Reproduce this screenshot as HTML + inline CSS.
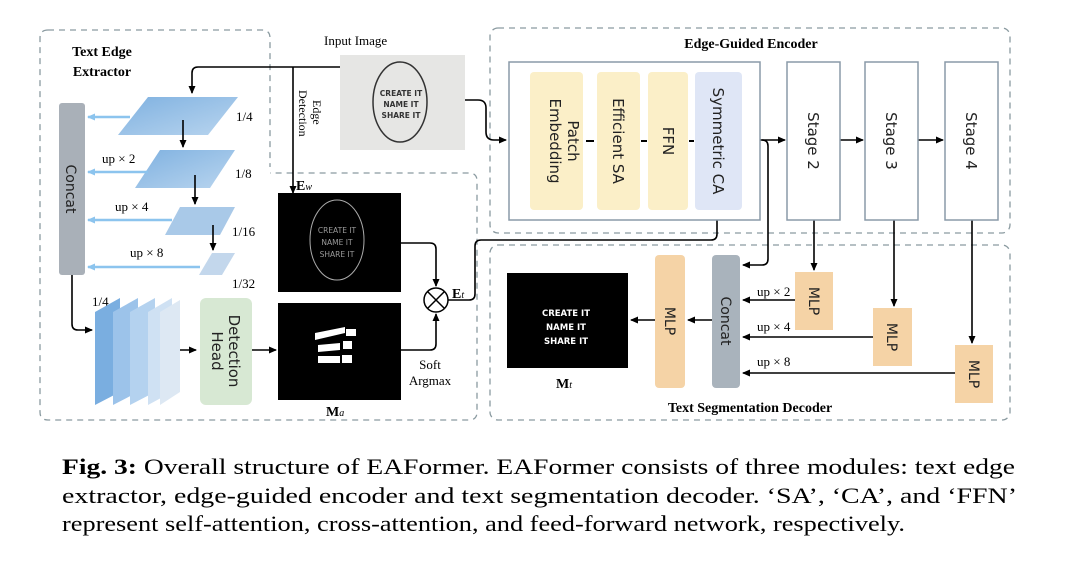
<!DOCTYPE html>
<html><head><meta charset="utf-8"><style>
html,body{margin:0;padding:0;background:#fff;width:1080px;height:561px;overflow:hidden}
svg{display:block}
.s{font-family:"Liberation Serif",serif}
.a{font-family:"DejaVu Sans","Liberation Sans",sans-serif}
</style></head><body>
<svg width="1080" height="561" viewBox="0 0 1080 561" xmlns="http://www.w3.org/2000/svg">
<defs>
<marker id="ah" markerWidth="8" markerHeight="8" refX="7" refY="4" orient="auto" markerUnits="userSpaceOnUse"><path d="M0,0.5 L8,4 L0,7.5 Z" fill="#000"/></marker>
<marker id="bh" markerWidth="8" markerHeight="8" refX="7" refY="4" orient="auto" markerUnits="userSpaceOnUse"><path d="M0,0.5 L8,4 L0,7.5 Z" fill="#8cc4ee"/></marker>
<linearGradient id="bl" x1="0" y1="0" x2="1" y2="1"><stop offset="0" stop-color="#7fb1e0"/><stop offset="1" stop-color="#b9d5ef"/></linearGradient>
</defs>
<g fill="none" stroke="#8a9aa0" stroke-width="1.3" stroke-dasharray="6,5">
<path d="M48,30 H262 Q270,30 270,38 V167"/>
<path d="M48,30 Q40,30 40,38 V412 Q40,420 48,420 H469 Q477,420 477,412 V181 Q477,173 469,173 H270"/>
<rect x="490" y="28" width="520" height="205" rx="8"/>
<rect x="490" y="245" width="520" height="175" rx="8"/>
</g>
<text x="102" y="56" class="s" font-weight="bold" font-size="14" text-anchor="middle">Text Edge</text>
<text x="102" y="76" class="s" font-weight="bold" font-size="14" text-anchor="middle">Extractor</text>
<rect x="59" y="103" width="26" height="172" rx="3" fill="#a9b0b8"/>
<text transform="translate(66,189) rotate(90)" class="a" font-size="14" text-anchor="middle" fill="#222">Concat</text>
<polygon points="148,97 238,97 208,135 118,135" fill="url(#bl)"/>
<polygon points="160,150 235,150 210,188 135,188" fill="url(#bl)"/>
<polygon points="180,207 235,207 220,235 165,235" fill="#a9c9e8"/>
<polygon points="212,253 235,253 222,275 199,275" fill="#c3d7ec"/>
<g class="s" font-size="13"><text x="236" y="121">1/4</text><text x="235" y="178">1/8</text><text x="232" y="236">1/16</text><text x="232" y="288">1/32</text><text x="92" y="306">1/4</text></g>
<g stroke="#8cc4ee" stroke-width="2.5" marker-end="url(#bh)"><line x1="130" y1="117" x2="88" y2="117"/><line x1="148" y1="172" x2="88" y2="172"/><line x1="172" y1="220" x2="88" y2="220"/><line x1="200" y1="267" x2="88" y2="267"/></g>
<g class="s" font-size="13"><text x="102" y="163">up × 2</text><text x="115" y="211">up × 4</text><text x="130" y="257">up × 8</text></g>
<g stroke="#000" stroke-width="1.6" fill="none" marker-end="url(#ah)">
<line x1="183" y1="120" x2="183" y2="147"/><line x1="195" y1="175" x2="195" y2="204"/><line x1="213" y1="225" x2="213" y2="250"/>
<path d="M340,67 H198 Q192,67 192,73 V93"/>
<path d="M293,67 V193"/>
<path d="M72,275 V324 Q72,330 78,330 H92"/>
<line x1="170" y1="350" x2="196" y2="350"/><line x1="252" y1="350" x2="276" y2="350"/>
<path d="M401,243 H430 Q436,243 436,249 V286"/>
<path d="M401,350 H430 Q436,350 436,344 V314"/>
<path d="M448,300 H469 Q475,300 475,294 V246 Q475,240 481,240 H711 Q717,240 717,234 V208"/>
<path d="M465,100 H478 Q486,100 486,108 V132 Q486,140 494,140 H506"/>
<path d="M760,140 H785"/><path d="M840,140 H863"/><path d="M918,140 H943"/>
<path d="M762,140 Q768,140 768,146 V259 Q768,265 762,265 H743"/>
<path d="M814,220 V270"/><path d="M894,220 V306"/><path d="M972,220 V343"/>
<path d="M795,300 H743"/><path d="M873,337 H743"/><path d="M955,373 H743"/>
<path d="M712,320 H688"/><path d="M655,320 H631"/>
</g>
<polygon points="95,312 120,298 120,392 95,405" fill="#7aaee0"/>
<polygon points="113,312 138,298 138,392 113,405" fill="#9cc3ea"/>
<polygon points="130,312 155,298 155,392 130,405" fill="#b4d2ef"/>
<polygon points="148,312 172,298 172,392 148,405" fill="#cfe1f3"/>
<polygon points="160,312 180,300 180,392 160,405" fill="#dde8f3"/>
<rect x="200" y="298" width="52" height="107" rx="6" fill="#d7e8d3"/>
<text transform="translate(229,351) rotate(90)" class="a" font-size="15" text-anchor="middle" fill="#222">Detection</text>
<text transform="translate(212,351) rotate(90)" class="a" font-size="15" text-anchor="middle" fill="#222">Head</text>
<text x="324" y="45" class="s" font-size="13">Input Image</text>
<rect x="340" y="55" width="125" height="95" fill="#e6e6e4"/>
<ellipse cx="400" cy="102" rx="27" ry="40" fill="none" stroke="#333" stroke-width="1.5"/>
<g class="a" font-size="7.5" font-weight="bold" fill="#333" text-anchor="middle"><text x="401" y="96">CREATE IT</text><text x="401" y="107">NAME IT</text><text x="401" y="118">SHARE IT</text></g>
<text transform="translate(299,90) rotate(90)" class="s" font-size="12">Detection</text>
<text transform="translate(313,100) rotate(90)" class="s" font-size="12">Edge</text>
<rect x="278" y="193" width="123" height="99" fill="#000"/>
<ellipse cx="337" cy="240" rx="27" ry="40" fill="none" stroke="#aaa" stroke-width="1"/>
<g class="a" font-size="7.5" fill="#999" text-anchor="middle"><text x="337" y="233">CREATE IT</text><text x="337" y="245">NAME IT</text><text x="337" y="257">SHARE IT</text></g>
<rect x="278" y="303" width="123" height="97" fill="#000"/>
<g fill="#fff"><polygon points="315,333 345,327 345,333 315,340"/><polygon points="318,345 340,343 340,350 318,352"/><rect x="343" y="341" width="9" height="8"/><rect x="346" y="329" width="10" height="7"/><rect x="318" y="356" width="22" height="7"/><rect x="342" y="355" width="10" height="8"/></g>
<text x="296" y="190" class="s" font-size="14" font-weight="bold">E<tspan font-style="italic" font-size="10" font-weight="normal">w</tspan></text>
<text x="326" y="416" class="s" font-size="14" font-weight="bold">M<tspan font-style="italic" font-size="10" font-weight="normal">a</tspan></text>
<circle cx="436" cy="300" r="12" fill="#fff" stroke="#000" stroke-width="1.5"/>
<path d="M427.5,291.5 L444.5,308.5 M444.5,291.5 L427.5,308.5" stroke="#000" stroke-width="1.5"/>
<text x="452" y="298" class="s" font-size="14" font-weight="bold">E<tspan font-style="italic" font-size="10" font-weight="normal">t</tspan></text>
<text x="430" y="369" class="s" font-size="13" text-anchor="middle">Soft</text>
<text x="430" y="385" class="s" font-size="13" text-anchor="middle">Argmax</text>
<text x="751" y="48" class="s" font-size="14" font-weight="bold" text-anchor="middle">Edge-Guided Encoder</text>
<rect x="509" y="62" width="251" height="158" fill="#fff" stroke="#8a9aa8" stroke-width="1.5"/>
<rect x="530" y="72" width="53" height="138" rx="4" fill="#fbefc8"/>
<rect x="597" y="72" width="43" height="138" rx="4" fill="#fbefc8"/>
<rect x="648" y="72" width="40" height="138" rx="4" fill="#fbefc8"/>
<rect x="695" y="72" width="47" height="138" rx="4" fill="#dfe6f6"/>
<g stroke="#000" stroke-width="2"><line x1="586" y1="141" x2="594" y2="141"/><line x1="641" y1="141" x2="647" y2="141"/><line x1="689" y1="141" x2="694" y2="141"/></g>
<g fill="#fff" stroke="#8a9aa8" stroke-width="1.5"><rect x="787" y="62" width="53" height="158"/><rect x="865" y="62" width="53" height="158"/><rect x="945" y="62" width="53" height="158"/></g>
<g class="a" font-size="15" fill="#222" text-anchor="middle">
<text transform="translate(560,141) rotate(90)" dy="-8">Patch</text>
<text transform="translate(560,141) rotate(90)" dy="10">Embedding</text>
<text transform="translate(618,141) rotate(90)" dy="5">Efficient SA</text>
<text transform="translate(668,141) rotate(90)" dy="5">FFN</text>
<text transform="translate(718,141) rotate(90)" dy="5">Symmetric CA</text>
<text transform="translate(813,141) rotate(90)" dy="5">Stage 2</text>
<text transform="translate(891,141) rotate(90)" dy="5">Stage 3</text>
<text transform="translate(971,141) rotate(90)" dy="5">Stage 4</text>
</g>
<rect x="507" y="273" width="121" height="95" fill="#000"/>
<g class="a" font-size="8.5" font-weight="bold" fill="#fff" text-anchor="middle"><text x="566" y="316">CREATE IT</text><text x="566" y="330">NAME IT</text><text x="566" y="344">SHARE IT</text></g>
<text x="556" y="388" class="s" font-size="14" font-weight="bold">M<tspan font-style="italic" font-size="10" font-weight="normal">t</tspan></text>
<rect x="655" y="255" width="30" height="133" rx="4" fill="#f5d3a6"/>
<rect x="712" y="255" width="28" height="133" rx="4" fill="#a9b3bc"/>
<rect x="795" y="272" width="38" height="58" fill="#f5d3a6"/>
<rect x="873" y="308" width="39" height="58" fill="#f5d3a6"/>
<rect x="955" y="345" width="38" height="58" fill="#f5d3a6"/>
<g class="a" font-size="14" fill="#222" text-anchor="middle">
<text transform="translate(670,321) rotate(90)" dy="5">MLP</text>
<text transform="translate(726,321) rotate(90)" dy="5">Concat</text>
<text transform="translate(814,301) rotate(90)" dy="5">MLP</text>
<text transform="translate(892,337) rotate(90)" dy="5">MLP</text>
<text transform="translate(974,374) rotate(90)" dy="5">MLP</text>
</g>
<g class="s" font-size="13"><text x="757" y="296">up × 2</text><text x="757" y="331">up × 4</text><text x="757" y="366">up × 8</text></g>
<text x="750" y="412" class="s" font-size="14" font-weight="bold" text-anchor="middle">Text Segmentation Decoder</text>
<g class="s" font-size="22">
<text x="62" y="474" textLength="953" lengthAdjust="spacingAndGlyphs"><tspan font-weight="bold">Fig. 3:</tspan> Overall structure of EAFormer. EAFormer consists of three modules: text edge</text>
<text x="62" y="503" textLength="955" lengthAdjust="spacingAndGlyphs">extractor, edge-guided encoder and text segmentation decoder. ‘SA’, ‘CA’, and ‘FFN’</text>
<text x="62" y="531" textLength="843" lengthAdjust="spacingAndGlyphs">represent self-attention, cross-attention, and feed-forward network, respectively.</text>
</g>
</svg>
</body></html>
